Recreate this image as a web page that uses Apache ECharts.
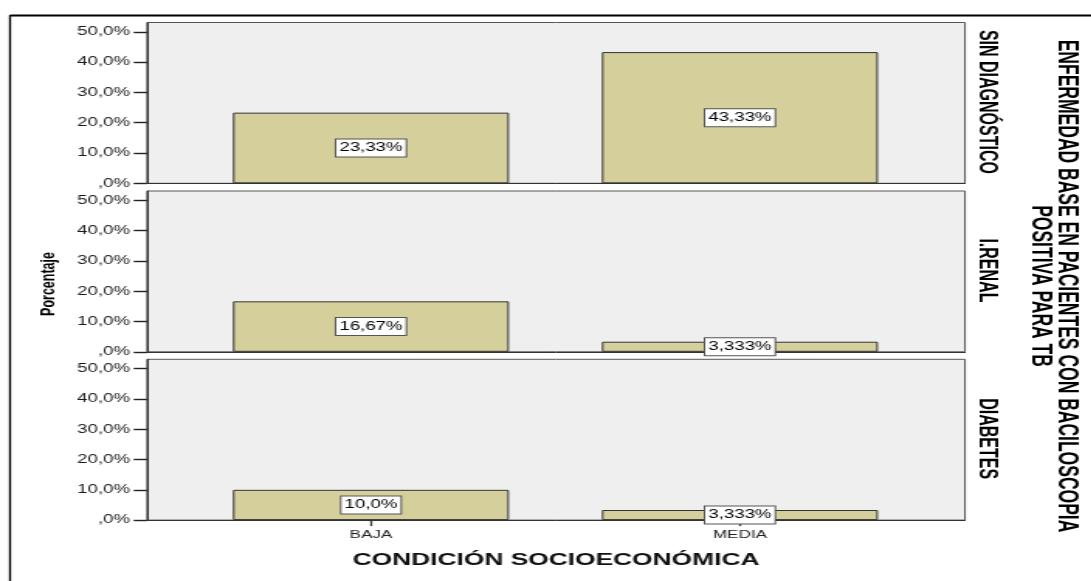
<!DOCTYPE html>
<html>
<head>
<meta charset="utf-8">
<script src="https://cdn.jsdelivr.net/npm/echarts@6/dist/echarts.min.js"></script>
<style>
  html, body { margin: 0; padding: 0; background: #fff; overflow: hidden; }
  /* the chart is laid out narrow and widened horizontally, like the exported graphic */
  #chart { width: 704px; height: 581px; transform: scaleX(1.55); transform-origin: 0 0; }
</style>
</head>
<body>
<div id="chart"></div>
<script>
// ---- data ----
const categories = ['BAJA', 'MEDIA'];
const panelNames = ['SIN DIAGNÓSTICO', 'I.RENAL', 'DIABETES'];
const sinDiagnostico = [23.33, 43.33];
const iRenal = [16.67, 3.333];
const diabetes = [10.0, 3.333];
const yTickValues = [0, 10, 20, 30, 40, 50];
const xTitle = 'CONDICIÓN SOCIOECONÓMICA';
const yTitle = 'Porcentaje';
const titleLines = ['ENFERMEDAD BASE EN PACIENTES CON BACILOSCOPIA', 'POSITIVA PARA TB'];

const panelValues = [sinDiagnostico, iRenal, diabetes];

// ---- layout (horizontal values are divided by the stretch factor) ----
const SX = 1.55;
const W = 1091 / SX;
const FONT = '"Liberation Sans", Arial, Helvetica, sans-serif';
const gridTops = [22.5, 191, 359.3];
const gridH = 160.8;
const gridLeft = 147 / SX;
const gridWidth = 818 / SX;

// Spanish-style number formatting: 23.33 -> "23,33%", 10 -> "10,0%", 0 -> ",0%"
function pct(v) {
  let s = String(v);
  if (s.indexOf('.') < 0) s += '.0';
  s = s.replace('.', ',');
  if (s.startsWith('0,')) s = s.slice(1);
  return s + '%';
}

const chart = echarts.init(document.getElementById('chart'), null, { renderer: 'canvas' });

const grids = [], xAxes = [], yAxes = [], series = [];
panelValues.forEach((vals, i) => {
  const last = i === panelValues.length - 1;
  grids.push({
    left: gridLeft, top: gridTops[i], width: gridWidth, height: gridH,
    show: true, backgroundColor: '#efefef', borderColor: '#555', borderWidth: 1
  });
  xAxes.push({
    gridIndex: i, type: 'value', min: -0.607, max: 1.61,
    axisLine: { show: true, onZero: false, lineStyle: { color: '#333', width: 1 } },
    splitLine: { show: false },
    axisTick: { show: last, customValues: [0, 1], length: 6, lineStyle: { color: '#333', width: 1.3 } },
    axisLabel: {
      show: last, customValues: [0, 1], margin: 9,
      formatter: v => categories[Math.round(v)] || '',
      fontSize: 11, color: '#222', fontFamily: FONT
    },
    name: last ? xTitle : '',
    nameLocation: 'middle', nameGap: 32,
    nameTextStyle: { fontSize: 17, fontWeight: 'bold', color: '#111', fontFamily: FONT }
  });
  yAxes.push({
    gridIndex: i, type: 'value', min: 0, max: 53.1, interval: 10,
    axisLine: { show: true, onZero: false, lineStyle: { color: '#333', width: 1 } },
    splitLine: { show: false },
    axisTick: { show: true, customValues: yTickValues, length: 8.6, lineStyle: { color: '#222', width: 1.4 } },
    axisLabel: {
      customValues: yTickValues, margin: 11,
      formatter: v => pct(v),
      fontSize: 12, color: '#1a1a1a', fontFamily: FONT
    }
  });
  series.push({
    type: 'bar', xAxisIndex: i, yAxisIndex: i,
    data: vals.map((v, k) => [k, v]),
    barWidth: 276 / SX,
    itemStyle: { color: '#d4cf9b', borderColor: '#333', borderWidth: 1 },
    label: {
      show: true, position: 'inside',
      formatter: p => pct(p.value[1]),
      backgroundColor: '#fff', borderColor: '#555', borderWidth: 1,
      padding: [3, 2, 2, 2], fontSize: 12, color: '#000', fontFamily: FONT
    },
    silent: true, animation: false
  });
});

const graphic = [
  // outer frame
  { type: 'line', shape: { x1: 10 / SX, y1: 15.5, x2: W + 10, y2: 15.5 }, style: { stroke: '#000', lineWidth: 2 } },
  { type: 'line', shape: { x1: 10 / SX, y1: 15, x2: 10 / SX, y2: 600 }, style: { stroke: '#000', lineWidth: 1.3 } },
  // y title
  { type: 'text', x: 49 / SX, y: 284, rotation: Math.PI / 2,
    style: { text: yTitle, font: 'bold 12.5px ' + FONT, fill: '#000', textAlign: 'center', textVerticalAlign: 'middle' } }
];
panelNames.forEach((name, i) => {
  graphic.push({ type: 'text', x: 986.5 / SX, y: gridTops[i] + gridH / 2 - 1, rotation: -Math.PI / 2,
    style: { text: name, font: 'bold 16px ' + FONT, fill: '#000', textAlign: 'center', textVerticalAlign: 'middle' } });
});
const titleX = [1066 / SX, 1040 / SX];
titleLines.forEach((t, i) => {
  graphic.push({ type: 'text', x: titleX[i], y: 286, rotation: -Math.PI / 2,
    style: { text: t, font: 'bold 17.5px ' + FONT, fill: '#000', textAlign: 'center', textVerticalAlign: 'middle' } });
});

chart.setOption({
  animation: false,
  grid: grids, xAxis: xAxes, yAxis: yAxes, series: series, graphic: graphic
});
</script>
</body>
</html>
